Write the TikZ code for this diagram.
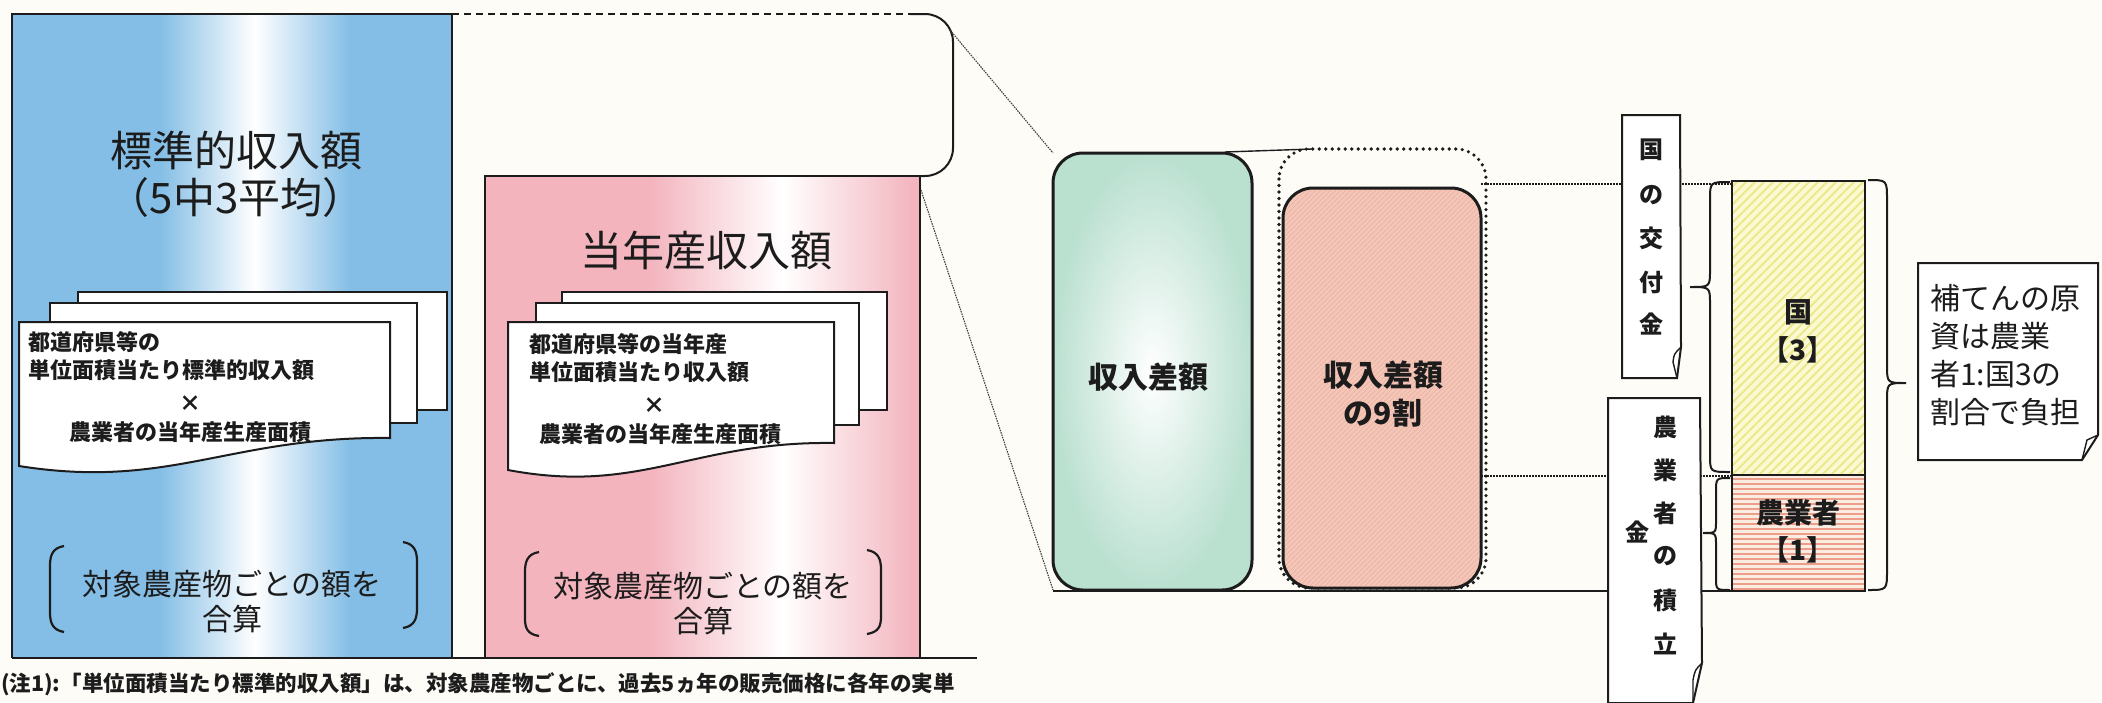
\documentclass[tikz,border=0pt]{standalone}
\usepackage{fontspec}
\setmainfont{Noto Sans CJK JP}
\definecolor{bg}{RGB}{253,252,247}
\definecolor{ink}{RGB}{28,28,28}
\definecolor{sky}{RGB}{132,190,230}
\definecolor{rose}{RGB}{243,180,190}
\definecolor{mint}{RGB}{186,224,208}
\definecolor{salmon}{RGB}{244,198,184}
\definecolor{salmonline}{RGB}{232,176,160}
\definecolor{lemon}{RGB}{251,249,210}
\definecolor{lemonline}{RGB}{236,232,140}
\definecolor{peach}{RGB}{251,236,226}
\definecolor{peachline}{RGB}{236,158,138}
\begin{document}
\begin{tikzpicture}[x=1pt,y=-1pt,
  boxline/.style={draw=ink,line width=2.4pt},
  thinline/.style={draw=ink,line width=1.4pt},
  dashline/.style={draw=ink,line width=1.8pt,dash pattern=on 7pt off 5pt},
  fineline/.style={draw=ink!85,line width=1.1pt,dash pattern=on 1.5pt off 1pt},
  dotline/.style={draw=ink,line width=1.6pt,dash pattern=on 1.5pt off 1.5pt},
  heavydots/.style={draw=ink,line width=3.6pt,dash pattern=on 0pt off 6.5pt,line cap=round},
  sheet/.style={fill=white,draw=ink,line width=2pt},
  hdr/.style={font=\fontsize{42}{48}\selectfont,text=ink},
  sheettext/.style={font=\bfseries\fontsize{22}{26}\selectfont,text=ink,inner sep=0pt},
  sumtext/.style={font=\fontsize{30}{34}\selectfont,text=ink},
  boxtext/.style={font=\bfseries\fontsize{30}{34}\selectfont,text=ink},
  bartext/.style={font=\bfseries\fontsize{28}{32}\selectfont,text=ink},
  calltext/.style={font=\fontsize{30}{38}\selectfont,text=ink,inner sep=0pt},
  vtext/.style={font=\bfseries\fontsize{24}{26}\selectfont,text=ink,inner sep=0pt},
  note/.style={font=\bfseries\fontsize{21.5}{24}\selectfont,text=ink,inner sep=0pt},
  bracket/.style={draw=ink,line width=2.2pt},
  brace/.style={draw=ink,line width=2pt}
]
\useasboundingbox (0,0) rectangle (2102,702);
\clip (0,0) rectangle (2102,702);
\fill[bg] (0,0) rectangle (2102,702);

% ---------- blue box ----------
\coordinate (bTL) at (12,14);
\coordinate (bTR) at (452,14);
\fill[sky] (12,14) rectangle (452,658);
\shade[left color=sky,right color=sky,middle color=white] (160,14) rectangle (350,658);
\draw[boxline] (12,658) -- (bTL) -- (bTR) -- (452,658);

% ---------- pink box ----------
\coordinate (pTL) at (485,176);
\coordinate (pTR) at (920,176);
\fill[rose] (485,176) rectangle (920,658);
\shade[left color=rose,right color=rose,middle color=white] (650,176) rectangle (915,658);
\draw[boxline] (485,658) -- (pTL) -- (pTR) -- (920,658);

% ---------- zoom outline ----------
\coordinate (dEnd) at (910,14);
\draw[dashline] (bTR) -- (dEnd);
\draw[thinline,line width=2pt,rounded corners=28] (dEnd) -- (953,14) -- (953,176) -- (pTR);
\coordinate (base0) at (12,658);
\coordinate (base1) at (977,658);
\draw[boxline] (base0) -- (base1);

% ---------- blue stack ----------
\filldraw[sheet] (78,292) rectangle (447,410);
\filldraw[sheet] (50,303) rectangle (417,423);
\filldraw[sheet] (19,322) -- (390,322) -- (390,438) .. controls (230,436) and (170,490) .. (19,466) -- cycle;
\node[sheettext,anchor=west] (b1) at (28,342) {都道府県等の};
\node[sheettext,anchor=west] (b2) at (28,370) {単位面積当たり標準的収入額};
\node[sheettext] (b3) at (190,404) {×};
\node[sheettext] (b4) at (190,432) {農業者の当年産生産面積};

% ---------- pink stack ----------
\filldraw[sheet] (562,292) rectangle (887,410);
\filldraw[sheet] (536,303) rectangle (859,425);
\filldraw[sheet] (508,322) -- (834,322) -- (834,443) .. controls (693,441) and (640,495) .. (508,470) -- cycle;
\node[sheettext,anchor=west] (q1) at (529,344) {都道府県等の当年産};
\node[sheettext,anchor=west] (q2) at (529,372) {単位面積当たり収入額};
\node[sheettext] (q3) at (654,406) {×};
\node[sheettext] (q4) at (660,434) {農業者の当年産生産面積};

% ---------- headers ----------
\node[hdr] (h1) at (236,150) {標準的収入額};
\node[hdr] (h2) at (236,198) {（5中3平均）};
\node[hdr] (h3) at (706,250) {当年産収入額};

% ---------- sum texts with brackets ----------
\node[sumtext] (s1) at (232,584) {対象農産物ごとの額を};
\node[sumtext] (s2) at (232,619) {合算};
\node[sumtext] (s3) at (703,586) {対象農産物ごとの額を};
\node[sumtext] (s4) at (703,621) {合算};
\draw[bracket] (64,546) .. controls (52,548) and (50,556) .. (50,566) -- (50,612) .. controls (50,622) and (52,630) .. (64,632);
\draw[bracket] (403,542) .. controls (415,544) and (417,552) .. (417,562) -- (417,608) .. controls (417,618) and (415,626) .. (403,628);
\draw[bracket] (539,552) .. controls (527,554) and (525,562) .. (525,572) -- (525,618) .. controls (525,628) and (527,634) .. (539,636);
\draw[bracket] (867,550) .. controls (879,552) and (881,560) .. (881,570) -- (881,616) .. controls (881,626) and (879,632) .. (867,634);

% ---------- footnote ----------
\node[note,anchor=west] (fn) at (1,684) {(注1):「単位面積当たり標準的収入額」は、対象農産物ごとに、過去5ヵ年の販売価格に各年の実単};

% ---------- right: green box ----------
\coordinate (gTL) at (1053,153);
\coordinate (gBL) at (1053,590);
\shade[inner color=white,outer color=mint,rounded corners=30] (1053,153) rectangle (1252,590);
\draw[boxline,line width=3pt,rounded corners=30] (1053,153) rectangle (1252,590);
\node[boxtext] (g) at (1148,377) {収入差額};

% zoom diagonals
\coordinate (o1) at (950,30);
\coordinate (p1) at (921,190);
\draw[fineline] (o1) -- (gTL);
\draw[fineline] (p1) -- (gBL);

% top connecting line
\coordinate (t0) at (1225,152);
\coordinate (t1) at (1312,149);
\draw[thinline] (t0) -- (t1);

% dotted 100% outline
\draw[heavydots,rounded corners=30] (1279,149) rectangle (1486,588);

% pink 90% box
\begin{scope}
\clip[rounded corners=30] (1283,188) rectangle (1481,588);
\fill[salmon] (1283,188) rectangle (1481,588);
\foreach \i in {-80,...,40} \draw[salmonline,line width=0.6pt] (1283+\i*5,588) -- ++(400,-400);
\end{scope}
\draw[boxline,line width=3pt,rounded corners=30] (1283,188) rectangle (1481,588);
\node[boxtext] (r1) at (1383,375) {収入差額};
\node[boxtext] (r2) at (1383,413) {の9割};

% connecting horizontal lines
\coordinate (l1a) at (1481,184);
\coordinate (l1b) at (1732,184);
\coordinate (l2a) at (1481,476);
\coordinate (l2b) at (1732,476);
\coordinate (l3a) at (1053,591);
\coordinate (l3b) at (1732,591);
\draw[dotline] (l1a) -- (l1b);
\draw[dotline] (l2a) -- (l2b);
\draw[thinline,line width=2pt] (l3a) -- (l3b);

% ---------- bar ----------
\begin{scope}
\clip (1732,181) rectangle (1865,475);
\fill[lemon] (1732,181) rectangle (1865,475);
\foreach \i in {-34,...,16} \draw[lemonline,line width=2pt] (1732+\i*9,475) -- ++(300,-300);
\end{scope}
\fill[peach] (1732,475) rectangle (1865,591);
\foreach \y in {479,484,...,589} \draw[peachline,line width=1.3pt] (1732,\y) -- (1865,\y);
\draw[boxline,line width=2pt] (1732,181) rectangle (1865,591);
\draw[boxline,line width=2pt] (1732,475) -- (1865,475);
\node[bartext] (k1) at (1798,312) {国};
\node[bartext] (k2) at (1798,350) {【3】};
\node[bartext] (n1) at (1798,513) {農業者};
\node[bartext] (n2) at (1798,550) {【1】};

% braces
\draw[brace] (1730,182) .. controls (1710,182) .. (1710,200) -- (1710,270) .. controls (1710,287) .. (1690,287) .. controls (1710,287) .. (1710,304) -- (1710,455) .. controls (1710,472) .. (1730,472);
\draw[brace] (1730,478) .. controls (1716,478) .. (1716,492) -- (1716,521) .. controls (1716,533) .. (1703,533) .. controls (1716,533) .. (1716,545) -- (1716,577) .. controls (1716,590) .. (1730,590);
\draw[brace] (1868,180) .. controls (1887,180) .. (1887,200) -- (1887,365) .. controls (1887,383) .. (1906,383) .. controls (1887,383) .. (1887,401) -- (1887,570) .. controls (1887,590) .. (1868,590);

% ---------- 国の交付金 box ----------
\filldraw[sheet] (1622,115) -- (1680,115) -- (1681,347) -- (1677,378) -- (1622,378) -- cycle;
\draw[thinline] (1681,347) .. controls (1674,354) .. (1673,362) -- (1677,378);
\node[vtext] (c1) at (1651,150) {国};
\node[vtext] (c2) at (1651,195) {の};
\node[vtext] (c3) at (1651,238) {交};
\node[vtext] (c4) at (1651,282) {付};
\node[vtext] (c5) at (1651,324) {金};

% ---------- 農業者の積立金 box ----------
\filldraw[sheet] (1608,398) -- (1700,398) -- (1702,663) -- (1693,703) -- (1608,703) -- cycle;
\draw[thinline] (1702,663) .. controls (1695,670) .. (1693,680) -- (1693,703);
\node[vtext] (f1) at (1665,427) {農};
\node[vtext] (f2) at (1665,470) {業};
\node[vtext] (f3) at (1665,513) {者};
\node[vtext] (f4) at (1665,556) {の};
\node[vtext] (f5) at (1665,600) {積};
\node[vtext] (f6) at (1665,644) {立};
\node[vtext] (f7) at (1637,532) {金};

% ---------- callout ----------
\filldraw[sheet] (1918,263) -- (2098,263) -- (2098,435) -- (2082,460) -- (1918,460) -- cycle;
\draw[thinline] (2098,435) -- (2087,440) -- (2082,460);
\node[calltext,anchor=west] (m1) at (1930,298) {補てんの原};
\node[calltext,anchor=west] (m2) at (1930,336) {資は農業};
\node[calltext,anchor=west] (m3) at (1930,374) {者1:国3の};
\node[calltext,anchor=west] (m4) at (1930,412) {割合で負担};
\end{tikzpicture}
\end{document}
